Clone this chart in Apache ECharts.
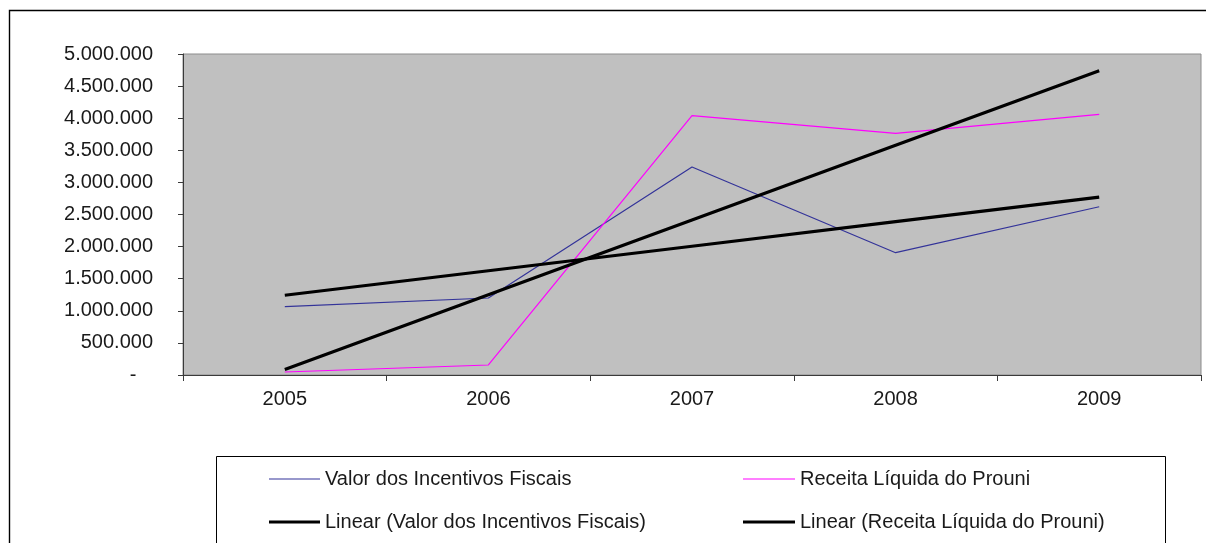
<!DOCTYPE html>
<html>
<head>
<meta charset="utf-8">
<script src="https://cdn.jsdelivr.net/npm/echarts@6/dist/echarts.min.js"></script>
<style>
  html, body { margin: 0; padding: 0; background: #ffffff; }
  #chart { width: 1206px; height: 543px; }
</style>
</head>
<body>
<div id="chart"></div>
<script>
// Anos (categorias do eixo X)
const anos = ['2005', '2006', '2007', '2008', '2009'];
// Valor dos Incentivos Fiscais (R$)
const incentivosFiscais = [1064000, 1199000, 3240000, 1905000, 2621000];
// Receita Líquida do Prouni (R$)
const receitaProuni = [47000, 156000, 4039000, 3765000, 4061000];

const nomeIncentivos = 'Valor dos Incentivos Fiscais';
const nomeReceita = 'Receita Líquida do Prouni';
const nomeLinIncentivos = 'Linear (Valor dos Incentivos Fiscais)';
const nomeLinReceita = 'Linear (Receita Líquida do Prouni)';

// Linha de tendência por mínimos quadrados (como a "Linear" do Excel)
function tendenciaLinear(valores) {
  const n = valores.length;
  let sx = 0, sy = 0, sxy = 0, sxx = 0;
  valores.forEach((y, x) => { sx += x; sy += y; sxy += x * y; sxx += x * x; });
  const b = (n * sxy - sx * sy) / (n * sxx - sx * sx);
  const a = (sy - b * sx) / n;
  return valores.map((_, x) => a + b * x);
}

function formatoBR(v) {
  if (v === 0) return '-   ';
  return String(v).replace(/\B(?=(\d{3})+(?!\d))/g, '.');
}

const fonte = '"Liberation Sans", Arial, sans-serif';
const corTexto = '#1a1a1a';

function legenda(nome, left, top, w, h) {
  return {
    data: [nome],
    left: left, top: top,
    orient: 'horizontal',
    padding: 0,
    icon: 'rect',
    itemWidth: w,
    itemHeight: h,
    itemGap: 0,
    selectedMode: false,
    textStyle: { fontFamily: fonte, fontSize: 20, color: corTexto, lineHeight: 20, padding: [0, 0, 0, 0] }
  };
}

const chart = echarts.init(document.getElementById('chart'), null, { renderer: 'canvas' });
chart.setOption({
  animation: false,
  backgroundColor: '#ffffff',
  grid: {
    left: 183, right: 5, top: 54, bottom: 168,
    show: true,
    backgroundColor: '#C0C0C0',
    borderColor: '#8c8c8c',
    borderWidth: 1
  },
  xAxis: {
    type: 'category',
    data: anos,
    boundaryGap: true,
    axisLine: { show: true, lineStyle: { color: '#3a3a3a', width: 1 } },
    axisTick: { show: true, length: 6, lineStyle: { color: '#3a3a3a' } },
    axisLabel: { margin: 14, fontFamily: fonte, fontSize: 20, color: corTexto },
    splitLine: { show: false }
  },
  yAxis: {
    type: 'value',
    min: 0, max: 5000000, interval: 500000,
    axisLine: { show: true, lineStyle: { color: '#3a3a3a', width: 1 } },
    axisTick: { show: true, length: 5, lineStyle: { color: '#3a3a3a' } },
    axisLabel: { margin: 30, fontFamily: fonte, fontSize: 20, color: corTexto, formatter: formatoBR },
    splitLine: { show: false }
  },
  legend: [
    legenda(nomeIncentivos, 269, 469, 51, 1),
    legenda(nomeReceita, 743, 469, 52, 1),
    legenda(nomeLinIncentivos, 269, 512, 51, 3),
    legenda(nomeLinReceita, 743, 512, 52, 3)
  ],
  graphic: [
    { type: 'rect', z: -10, silent: true,
      shape: { x: 9.5, y: 10.5, width: 1400, height: 700 },
      style: { fill: null, stroke: '#000000', lineWidth: 1.4 } },
    { type: 'rect', z: -10, silent: true,
      shape: { x: 216.5, y: 456.5, width: 949, height: 200 },
      style: { fill: null, stroke: '#000000', lineWidth: 1 } }
  ],
  series: [
    { name: nomeIncentivos, type: 'line', data: incentivosFiscais, color: '#333399',
      symbol: 'none', lineStyle: { width: 1.2, color: '#333399' }, z: 2 },
    { name: nomeReceita, type: 'line', data: receitaProuni, color: '#FF00FF',
      symbol: 'none', lineStyle: { width: 1.2, color: '#FF00FF' }, z: 2 },
    { name: nomeLinIncentivos, type: 'line', data: tendenciaLinear(incentivosFiscais), color: '#000000',
      symbol: 'none', lineStyle: { width: 3.2, color: '#000000' }, z: 3 },
    { name: nomeLinReceita, type: 'line', data: tendenciaLinear(receitaProuni), color: '#000000',
      symbol: 'none', lineStyle: { width: 3.2, color: '#000000' }, z: 3 }
  ]
});
</script>
</body>
</html>
